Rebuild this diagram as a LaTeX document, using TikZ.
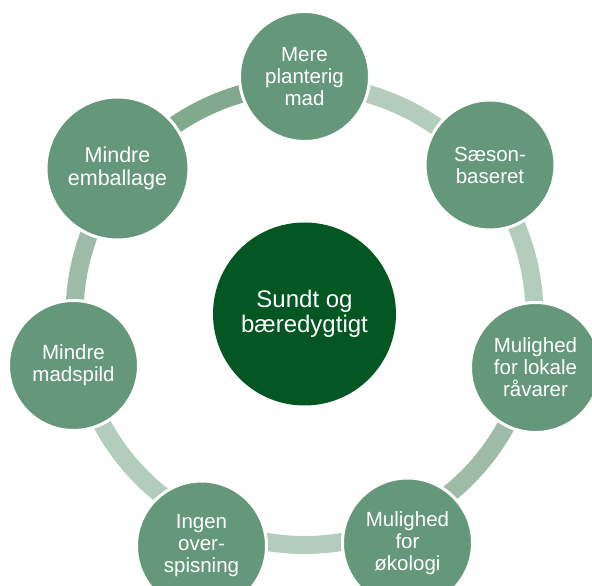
\documentclass[tikz,border=0pt]{standalone}
\usepackage{fontspec}
\setmainfont{Liberation Sans}
\definecolor{nodegreen}{HTML}{65987A}
\definecolor{centergreen}{HTML}{045723}
\definecolor{arcLight}{HTML}{B3CDBC}
\definecolor{arcMid}{HTML}{9DBBA7}
\definecolor{arcDark}{HTML}{80A98D}
\tikzset{
  outernode/.style={circle, fill=nodegreen, draw=white, line width=3pt, inner sep=0pt,
    minimum size=130pt, text=white, align=center, font=\fontsize{20.5}{22}\selectfont},
  bignode/.style={outernode, minimum size=143pt, font=\fontsize{21.5}{23.5}\selectfont},
  centernode/.style={circle, fill=centergreen, inner sep=0pt, minimum size=183pt,
    text=white, align=center, font=\fontsize{24}{25.5}\selectfont},
  ringarc/.style={line width=18pt}
}
\begin{document}
\begin{tikzpicture}[x=1pt,y=1pt]
\useasboundingbox (0,0) rectangle (592,586);
\coordinate (O) at (304.5,271);
% arcs
\draw[ringarc, arcLight] ([shift={(90:230)}]O) arc[start angle=90, end angle=38.96, radius=230];
\draw[ringarc, arcLight] ([shift={(38.96:230)}]O) arc[start angle=38.96, end angle=-12.8, radius=230];
\draw[ringarc, arcMid] ([shift={(-12.8:230)}]O) arc[start angle=-12.8, end angle=-65.7, radius=230];
\draw[ringarc, arcLight] ([shift={(-65.7:230)}]O) arc[start angle=-65.7, end angle=-114.04, radius=230];
\draw[ringarc, arcLight] ([shift={(-114.04:230)}]O) arc[start angle=-114.04, end angle=-167.7, radius=230];
\draw[ringarc, arcMid] ([shift={(-167.7:230)}]O) arc[start angle=-167.7, end angle=-218.1, radius=230];
\draw[ringarc, arcDark] ([shift={(-218.1:230)}]O) arc[start angle=-218.1, end angle=-270, radius=230];
% nodes
\node[centernode] (center) at (304.5,272) {Sundt og\\bæredygtigt};
\node[outernode] (mere) at (304.5,509.5) {Mere\\planterig\\mad};
\node[outernode] (saeson) at (490,421) {Sæson-\\baseret};
\node[outernode] (lokale) at (535.5,218.5) {Mulighed\\for lokale\\råvarer};
\node[outernode] (oekologi) at (407.5,43) {Mulighed\\for\\økologi};
\node[outernode] (ingen) at (201.5,40) {Ingen\\over-\\spisning};
\node[outernode] (madspild) at (73.5,220.5) {Mindre\\madspild};
\node[bignode] (emballage) at (117.5,417.5) {Mindre\\emballage};
\end{tikzpicture}
\end{document}
